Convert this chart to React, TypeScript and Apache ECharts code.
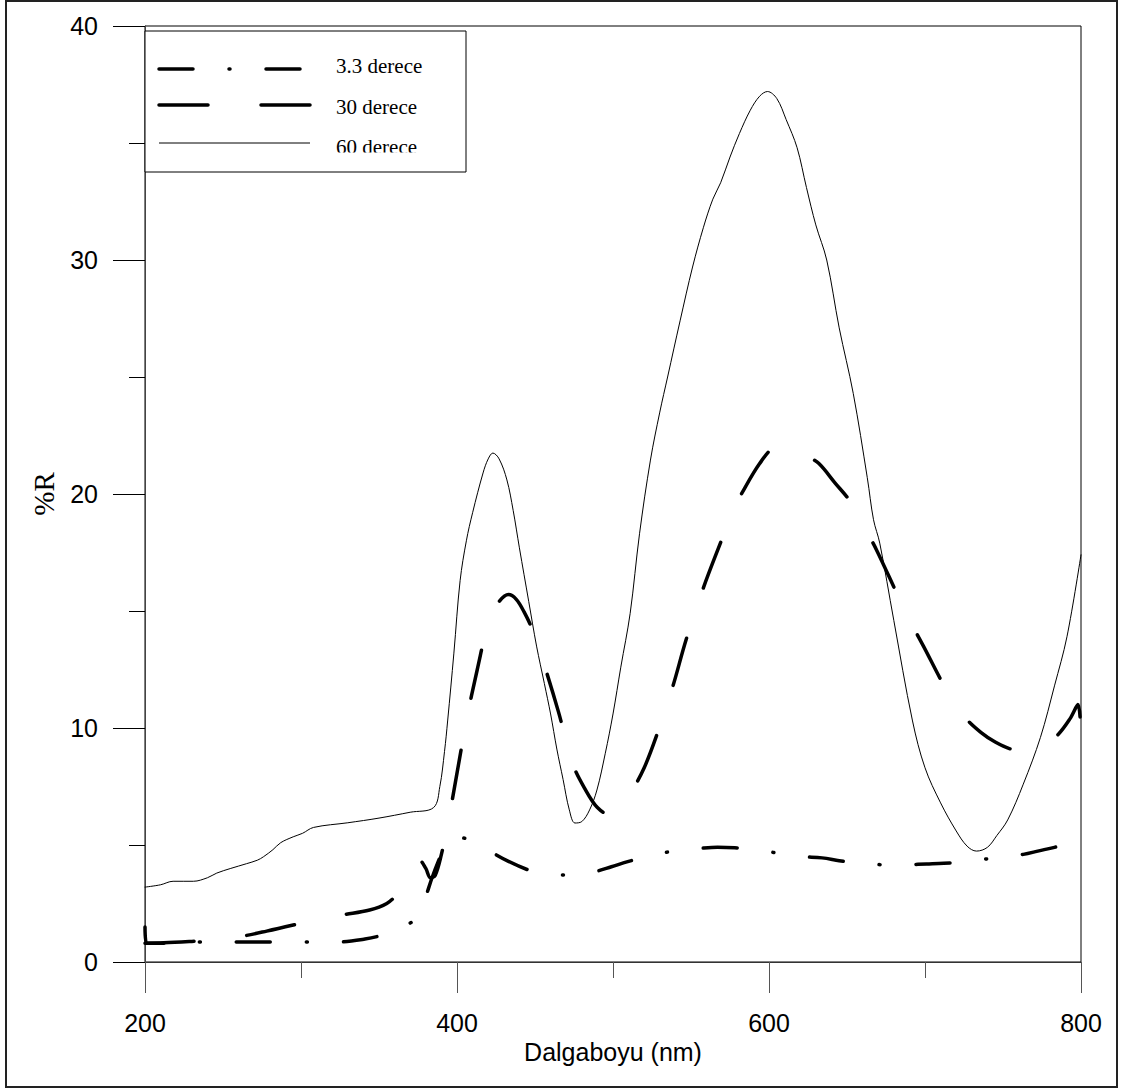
import React, { useEffect, useRef } from "react";
import * as echarts from "echarts";

// ---- data (wavelength in nm, reflectance %R) ----
const seriesNames = ["3.3 derece", "30 derece", "60 derece"];

const wl33 = [200, 201, 212, 222, 235, 245, 264, 283, 304, 322, 341, 352, 358, 366, 372, 376, 380, 384, 388, 392, 396, 403, 410, 415, 422, 433, 445, 454, 465, 477, 488, 499, 510, 522, 533, 544, 556, 567, 578, 589, 600, 610, 622, 634, 645, 656, 668, 679, 690, 701, 712, 724, 734, 743, 753, 763, 773, 783, 792, 800];
const r33 = [1.5, 0.8, 0.8, 0.95, 0.85, 0.85, 0.85, 0.85, 0.85, 0.85, 0.98, 1.15, 1.35, 1.55, 1.75, 2.1, 2.8, 3.6, 4.3, 4.9, 5.2, 5.3, 5.2, 5.0, 4.7, 4.3, 3.95, 3.78, 3.72, 3.72, 3.85, 4.07, 4.3, 4.5, 4.67, 4.79, 4.86, 4.9, 4.88, 4.83, 4.72, 4.58, 4.5, 4.45, 4.33, 4.23, 4.17, 4.15, 4.16, 4.19, 4.22, 4.27, 4.35, 4.44, 4.52, 4.6, 4.75, 4.9, 5.05, 5.15];

const wl30 = [200, 212, 230, 245, 262, 278, 295, 311, 328, 344, 355, 362, 370, 376, 380, 383, 386, 390, 394, 400, 406, 413, 421, 427, 433, 438, 443, 449, 455, 465, 474, 482, 490, 498, 505, 513, 520, 527, 538, 547, 558, 570, 577, 584, 594, 603, 610, 618, 625, 632, 642, 653, 661, 669, 683, 691, 699, 714, 725, 736, 745, 755, 765, 775, 785, 793, 798, 800];
const r30 = [0.8, 0.82, 0.88, 0.94, 1.1, 1.32, 1.58, 1.84, 2.03, 2.22, 2.5, 2.9, 3.4, 4.36, 4.0, 3.6, 3.7, 4.6, 5.85, 8.07, 10.3, 12.5, 14.7, 15.4, 15.7, 15.5, 14.96, 14.1, 12.9, 10.7, 8.5, 7.4, 6.6, 6.3, 6.5, 7.4, 8.3, 9.5, 11.7, 13.8, 16.0, 18.1, 19.3, 20.2, 21.3, 22.0, 22.1, 21.9, 21.6, 21.3, 20.5, 19.6, 18.6, 17.6, 15.6, 14.5, 13.5, 11.6, 10.5, 9.8, 9.4, 9.1, 9.0, 9.2, 9.7, 10.4, 11.0, 9.4];

const wl60 = [200, 210, 218, 231, 240, 246, 255, 265, 272, 276, 282, 287, 295, 301, 308, 330, 350, 370, 385, 389, 392, 394, 398, 402, 406, 410, 416.7, 420, 423, 427, 432, 436, 440, 446, 451, 456, 460, 464, 468, 472, 475.6, 480, 485, 489.7, 495, 500, 505, 511, 517, 524, 530, 535, 543, 551, 558, 564, 569, 575, 581, 588, 594, 599, 605, 611, 618, 624, 630, 637, 645, 654, 663, 667, 671, 680, 692, 700, 710, 720, 727, 733, 740, 746, 753, 763, 774, 783, 791, 800];
const r60 = [3.2, 3.3, 3.45, 3.45, 3.6, 3.8, 4.0, 4.2, 4.35, 4.5, 4.8, 5.1, 5.35, 5.5, 5.75, 5.95, 6.15, 6.4, 6.6, 7.5, 9.0, 10.3, 13.2, 16.3, 18.0, 19.2, 20.9, 21.5, 21.75, 21.5, 20.6, 19.3, 17.7, 15.4, 13.5, 11.9, 10.6, 9.1, 7.8, 6.5, 5.94, 6.0, 6.5, 7.35, 8.9, 10.6, 12.6, 14.9, 18.3, 21.45, 23.5, 25.0, 27.4, 29.7, 31.4, 32.6, 33.3, 34.4, 35.4, 36.4, 37.0, 37.2, 36.9, 36.0, 34.8, 33.1, 31.5, 30.0, 27.1, 24.3, 20.7, 18.9, 17.9, 14.6, 10.3, 8.3, 6.8, 5.6, 4.95, 4.74, 4.9, 5.4, 6.07, 7.6, 9.6, 11.8, 13.9, 17.4];

const xMin = 200, xMax = 800, xInterval = 200;
const yMin = 0, yMax = 40, yInterval = 10;
const xTitle = "Dalgaboyu (nm)";
const yTitle = "%R";

const dash33 = [34, 36, 1, 36];
const dash30 = [49, 53];

export default function App() {
  const ref = useRef<HTMLDivElement>(null);
  useEffect(() => {
    if (!ref.current) return;
    const chart = echarts.init(ref.current, undefined, { renderer: "svg" });
    const pairs = (xs: number[], ys: number[]) => xs.map((x, i) => [x, ys[i]]);
    const sansFont = "Liberation Sans";
    const serifFont = "Liberation Serif";
    const legendRows = [
      { name: seriesNames[0], y: 69, ty: 66, w: 3.5, dash: dash33 },
      { name: seriesNames[1], y: 105, ty: 107, w: 3.5, dash: dash30 },
      { name: seriesNames[2], y: 143, ty: 147, w: 1, dash: null as number[] | null },
    ];
    const legendGraphics: any[] = [
      {
        type: "rect",
        shape: { x: 145, y: 31, width: 321, height: 141 },
        style: { fill: "#fff", stroke: "#000", lineWidth: 1 },
        z: 100,
      },
    ];
    legendRows.forEach((r) => {
      legendGraphics.push({
        type: "line",
        shape: { x1: 159, y1: r.y, x2: 310, y2: r.y },
        style: {
          stroke: "#000",
          lineWidth: r.w,
          lineDash: r.dash || undefined,
          lineCap: r.dash ? "round" : "butt",
        },
        z: 101,
      });
      legendGraphics.push({
        type: "text",
        x: 336,
        y: r.ty,
        style: {
          text: r.name,
          font: `21px "${serifFont}"`,
          fill: "#000",
          align: "left",
          verticalAlign: "middle",
        },
        z: 101,
      });
    });
    // clipping artifact of the last legend label
    legendGraphics.push({
      type: "rect",
      shape: { x: 330, y: 152.5, width: 134, height: 18.5 },
      style: { fill: "#fff" },
      z: 102,
    });

    const lineSeries = (name: string, xs: number[], ys: number[], width: number, type: any, z: number) => ({
      name,
      type: "line",
      data: pairs(xs, ys),
      showSymbol: false,
      symbol: "none",
      smooth: 0.35,
      lineStyle: { color: "#000", width, type, cap: "round", join: "round" },
      z,
    });

    chart.setOption({
      animation: false,
      backgroundColor: "#fff",
      grid: {
        left: 145,
        top: 26,
        width: 936,
        height: 936,
        show: true,
        borderColor: "#000",
        borderWidth: 1,
        backgroundColor: "transparent",
      },
      xAxis: {
        type: "value",
        min: xMin,
        max: xMax,
        interval: xInterval,
        axisLine: { show: true, onZero: false, lineStyle: { color: "#333", width: 1 } },
        axisTick: { show: true, length: 31, lineStyle: { color: "#555", width: 1 } },
        minorTick: { show: true, splitNumber: 2, length: 16, lineStyle: { color: "#555", width: 1 } },
        splitLine: { show: false },
        minorSplitLine: { show: false },
        axisLabel: { margin: 48, fontSize: 25, color: "#000", fontFamily: sansFont },
        name: xTitle,
        nameLocation: "middle",
        nameGap: 77,
        nameTextStyle: { fontSize: 25, color: "#000", fontFamily: sansFont },
      },
      yAxis: {
        type: "value",
        min: yMin,
        max: yMax,
        interval: yInterval,
        axisLine: { show: true, onZero: false, lineStyle: { color: "#444", width: 1 } },
        axisTick: { show: true, length: 32, lineStyle: { color: "#000", width: 1 } },
        minorTick: { show: true, splitNumber: 2, length: 16, lineStyle: { color: "#000", width: 1 } },
        splitLine: { show: false },
        minorSplitLine: { show: false },
        axisLabel: { margin: 47, fontSize: 25, color: "#000", fontFamily: sansFont },
      },
      series: [
        lineSeries(seriesNames[0], wl33, r33, 3.5, dash33, 3),
        lineSeries(seriesNames[1], wl30, r30, 3.5, dash30, 3),
        lineSeries(seriesNames[2], wl60, r60, 1, "solid", 2),
      ],
      graphic: [
        {
          type: "rect",
          shape: { x: 6, y: 1, width: 1111, height: 1086 },
          style: { fill: "none", stroke: "#222", lineWidth: 2 },
          silent: true,
          z: 0,
        },
        {
          type: "text",
          x: 44,
          y: 494,
          rotation: Math.PI / 2,
          style: {
            text: yTitle,
            font: `29px "${serifFont}"`,
            fill: "#000",
            align: "center",
            verticalAlign: "middle",
          },
        },
        ...legendGraphics,
      ],
    });
    return () => chart.dispose();
  }, []);
  return (
    <div
      ref={ref}
      style={{ position: "absolute", left: 0, top: 0, width: 1122, height: 1090 }}
    />
  );
}
